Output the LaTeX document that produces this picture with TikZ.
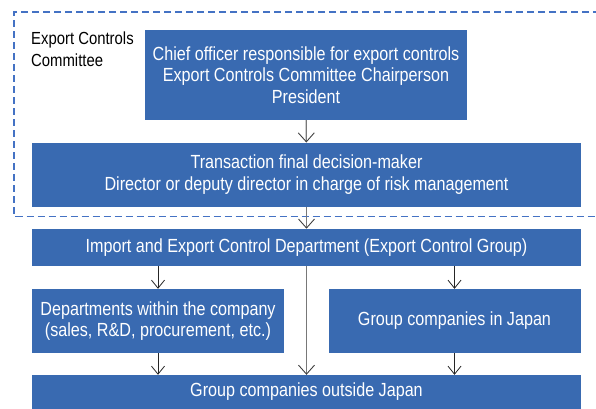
\documentclass[tikz,border=0pt]{standalone}
\usepackage{fontspec}
\setmainfont{Liberation Sans}[FakeStretch=0.85]
\usetikzlibrary{arrows.meta}
\definecolor{boxblue}{RGB}{57,106,177}
\definecolor{dashblue}{RGB}{68,114,196}
\definecolor{arrgray}{RGB}{120,120,120}
\tikzset{
  bluebox/.style={draw=none, fill=boxblue, text=white, align=center, inner sep=0pt,
    font=\fontsize{19}{21.5}\selectfont},
  thinarrow/.style={draw=black!85, line width=0.8pt, -{Straight Barb[length=8pt,width=13pt]}},
  grayarrow/.style={draw=arrgray, line width=1.6pt, -{Straight Barb[length=9pt,width=16pt,line width=0.9pt,color=black!75]}},
}
\begin{document}
\begin{tikzpicture}[x=1pt,y=-1pt]
\useasboundingbox (0,0) rectangle (596,408);
% committee frame
\coordinate (ftr) at (600,12);
\coordinate (fbr) at (600,216.5);
\coordinate (ftl) at (14,12);
\coordinate (fbl) at (14,216.5);
\draw[dashblue, line width=1.6pt, dash pattern=on 7pt off 4pt] (ftr) -- (ftl) -- (fbl) -- (fbr);
\node[anchor=north west, align=left, inner sep=0pt, font=\fontsize{17.5}{22}\selectfont] (lab) at (31,32) {Export Controls\\Committee};
% boxes
\node[bluebox, minimum width=322pt, minimum height=90pt] (chief) at (306,75)
  {Chief officer responsible for export controls\\Export Controls Committee Chairperson\\President};
\node[bluebox, minimum width=549pt, minimum height=64pt] (trans) at (306.5,174.7)
  {Transaction final decision-maker\\Director or deputy director in charge of risk management};
\node[bluebox, minimum width=549pt, minimum height=37pt] (imp) at (306.5,247.4)
  {Import and Export Control Department (Export Control Group)};
\node[bluebox, minimum width=252pt, minimum height=64pt] (dep) at (158,321)
  {Departments within the company\\(sales, R\&D, procurement, etc.)};
\node[bluebox, minimum width=252pt, minimum height=64pt] (gjp) at (454.5,321)
  {Group companies in Japan};
\node[bluebox, minimum width=549pt, minimum height=34pt] (gout) at (306.5,392)
  {Group companies outside Japan};
% connectors
\draw[grayarrow, line width=1.3pt] (chief) -- (trans);
\draw[grayarrow] (trans) -- (imp);
\draw[thinarrow] (imp.south -| dep) -- (dep);
\draw[thinarrow] (imp.south -| gjp) -- (gjp);
\draw[thinarrow] (dep) -- (gout.north -| dep);
\draw[thinarrow] (gjp) -- (gout.north -| gjp);
\draw[grayarrow] (imp) -- (gout);
\end{tikzpicture}
\end{document}
